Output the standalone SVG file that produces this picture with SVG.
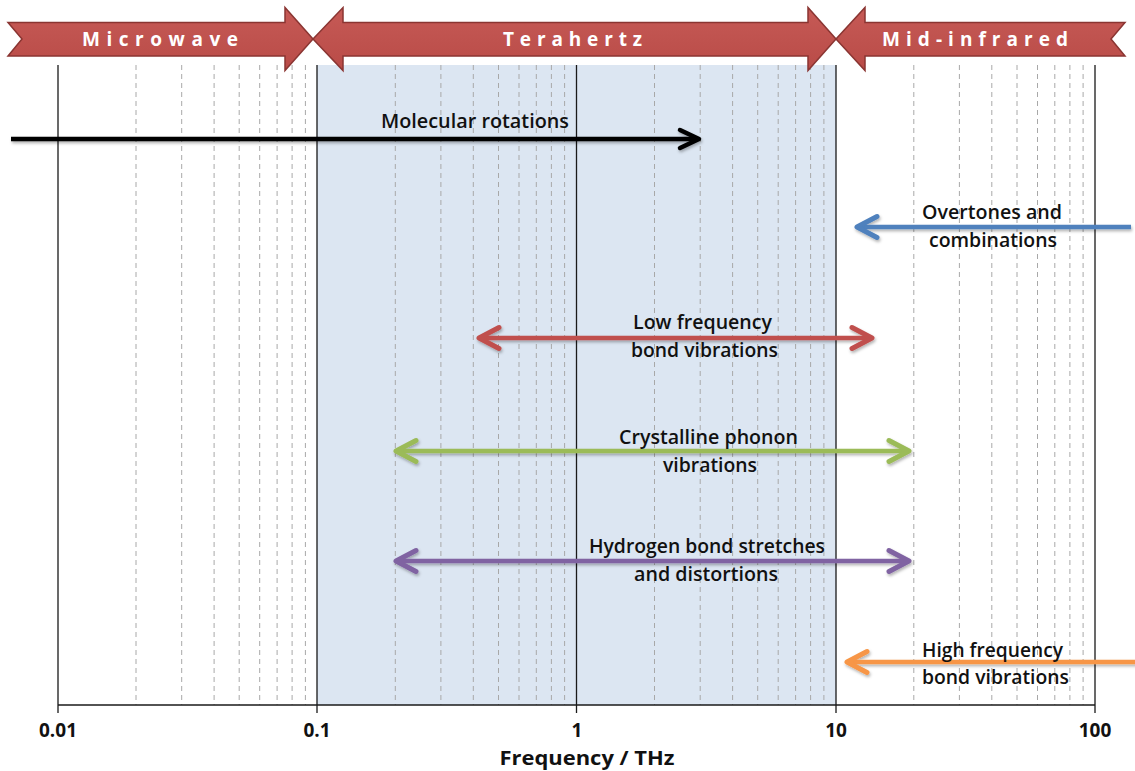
<svg xmlns="http://www.w3.org/2000/svg" width="1135" height="771" viewBox="0 0 1135 771">
  <style>
    .dash { stroke: #a8a8a8; stroke-width: 1; stroke-dasharray: 5 4; fill: none; }
    .decade { stroke: #1a1a1a; stroke-width: 1.3; fill: none; }
    .band { fill: url(#bandGrad); stroke: #8a3532; stroke-width: 1.5; stroke-linejoin: miter; }
    .bandText { font-family: "Open Sans", "Liberation Sans", sans-serif; font-weight: 700; font-size: 19px; fill: #ffffff; }
    .lbl { font-family: "Open Sans", "Liberation Sans", sans-serif; font-weight: 600; font-size: 19.5px; fill: #111111; text-anchor: middle; }
    .tick { font-family: "Open Sans", "Liberation Sans", sans-serif; font-weight: 700; font-size: 19px; fill: #111111; text-anchor: middle; }
    .conn { fill: none; stroke-width: 4.5; }
  </style>
  <defs>
    <linearGradient id="bandGrad" x1="0" y1="0" x2="0" y2="1">
      <stop offset="0" stop-color="#c65a56"/>
      <stop offset="1" stop-color="#b94b47"/>
    </linearGradient>
    <filter id="shadow" x="-5%" y="-50%" width="110%" height="200%">
      <feDropShadow dx="1" dy="2" stdDeviation="1.5" flood-color="#000000" flood-opacity="0.3"/>
    </filter>
    <marker id="ah-black" viewBox="0 0 26 26" markerWidth="26" markerHeight="26" refX="21" refY="13" orient="auto-start-reverse" markerUnits="userSpaceOnUse" overflow="visible">
      <path d="M4,4 L23,13 L4,22" fill="none" stroke="#000000" stroke-width="4.5" stroke-linecap="round" stroke-linejoin="round"/>
    </marker>
    <marker id="ah-blue" viewBox="0 0 26 26" markerWidth="26" markerHeight="26" refX="21" refY="13" orient="auto-start-reverse" markerUnits="userSpaceOnUse" overflow="visible">
      <path d="M3,2.5 L23,13 L3,23.5" fill="none" stroke="#4f81bd" stroke-width="5" stroke-linecap="round" stroke-linejoin="round"/>
    </marker>
    <marker id="ah-red" viewBox="0 0 26 26" markerWidth="26" markerHeight="26" refX="21" refY="13" orient="auto-start-reverse" markerUnits="userSpaceOnUse" overflow="visible">
      <path d="M3,2.5 L23,13 L3,23.5" fill="none" stroke="#c0504d" stroke-width="5" stroke-linecap="round" stroke-linejoin="round"/>
    </marker>
    <marker id="ah-green" viewBox="0 0 26 26" markerWidth="26" markerHeight="26" refX="21" refY="13" orient="auto-start-reverse" markerUnits="userSpaceOnUse" overflow="visible">
      <path d="M3,2.5 L23,13 L3,23.5" fill="none" stroke="#9bbb59" stroke-width="5" stroke-linecap="round" stroke-linejoin="round"/>
    </marker>
    <marker id="ah-purple" viewBox="0 0 26 26" markerWidth="26" markerHeight="26" refX="21" refY="13" orient="auto-start-reverse" markerUnits="userSpaceOnUse" overflow="visible">
      <path d="M3,2.5 L23,13 L3,23.5" fill="none" stroke="#8064a2" stroke-width="5" stroke-linecap="round" stroke-linejoin="round"/>
    </marker>
    <marker id="ah-orange" viewBox="0 0 26 26" markerWidth="26" markerHeight="26" refX="21" refY="13" orient="auto-start-reverse" markerUnits="userSpaceOnUse" overflow="visible">
      <path d="M3,2.5 L23,13 L3,23.5" fill="none" stroke="#f79646" stroke-width="5" stroke-linecap="round" stroke-linejoin="round"/>
    </marker>
  </defs>

  <rect x="0" y="0" width="1135" height="771" fill="#ffffff"/>

  <!-- Plot area -->
  <g id="plot">
    <rect id="thz-region" x="317" y="65" width="519" height="640" fill="#dce6f2"/>
    <path class="dash" d="M136,65V705 M181.7,65V705 M214.1,65V705 M239.2,65V705 M259.7,65V705 M277.1,65V705 M292.1,65V705 M305.4,65V705
      M395.3,65V705 M440.9,65V705 M473.3,65V705 M498.5,65V705 M519,65V705 M536.3,65V705 M551.4,65V705 M564.6,65V705
      M654.5,65V705 M700.2,65V705 M732.6,65V705 M757.7,65V705 M778.2,65V705 M795.6,65V705 M810.6,65V705 M823.9,65V705
      M913.8,65V705 M959.4,65V705 M991.8,65V705 M1017,65V705 M1037.5,65V705 M1054.8,65V705 M1069.9,65V705 M1083.1,65V705"/>
    <path class="decade" d="M58,65V713 M317,65V713 M576.5,65V713 M836,65V713 M1095,65V713"/>
    <path class="decade" d="M58,705H1095" stroke-width="1.6"/>
  </g>

  <!-- Band banner -->
  <g id="band-microwave">
    <path class="band" d="M8,22.5 L285,22.5 L285,7.5 L313,39 L285,70.5 L285,56 L8,56 L22,39 Z"/>
    <text class="bandText" x="82" y="46" textLength="156" lengthAdjust="spacing">Microwave</text>
  </g>
  <g id="band-terahertz">
    <path class="band" d="M313,39 L343,7.5 L343,22.5 L808,22.5 L808,7.5 L836,39 L808,70.5 L808,56 L343,56 L343,70.5 Z"/>
    <text class="bandText" x="503" y="46" textLength="139" lengthAdjust="spacing">Terahertz</text>
  </g>
  <g id="band-midinfrared">
    <path class="band" d="M836,39 L865,7.5 L865,22.5 L1125,22.5 L1111,39 L1125,56 L865,56 L865,70.5 Z"/>
    <text class="bandText" x="882" y="46" textLength="186" lengthAdjust="spacing">Mid-infrared</text>
  </g>

  <!-- Connectors -->
  <g id="connectors" filter="url(#shadow)">
    <path id="arrow-molecular" class="conn" stroke="#000000" stroke-width="4" d="M11,139 L697,139" marker-end="url(#ah-black)"/>
    <path id="arrow-overtones" class="conn" stroke="#4f81bd" d="M1131,227 L859,227" marker-end="url(#ah-blue)"/>
    <path id="arrow-lowfreq" class="conn" stroke="#c0504d" d="M481,338 L870,338" marker-start="url(#ah-red)" marker-end="url(#ah-red)"/>
    <path id="arrow-phonon" class="conn" stroke="#9bbb59" d="M398,451 L907,451" marker-start="url(#ah-green)" marker-end="url(#ah-green)"/>
    <path id="arrow-hbond" class="conn" stroke="#8064a2" d="M398,561 L907,561" marker-start="url(#ah-purple)" marker-end="url(#ah-purple)"/>
    <path id="arrow-highfreq" class="conn" stroke="#f79646" d="M1137,662 L849,662" marker-end="url(#ah-orange)"/>
  </g>

  <!-- Labels -->
  <g id="label-molecular">
    <text class="lbl" x="475" y="128" textLength="188" lengthAdjust="spacingAndGlyphs">Molecular rotations</text>
  </g>
  <g id="label-overtones">
    <text class="lbl" x="992" y="219" textLength="140" lengthAdjust="spacingAndGlyphs">Overtones and</text>
    <text class="lbl" x="993" y="247" textLength="128" lengthAdjust="spacingAndGlyphs">combinations</text>
  </g>
  <g id="label-lowfreq">
    <text class="lbl" x="702.5" y="329" textLength="139" lengthAdjust="spacingAndGlyphs">Low frequency</text>
    <text class="lbl" x="704.5" y="357" textLength="147" lengthAdjust="spacingAndGlyphs">bond vibrations</text>
  </g>
  <g id="label-phonon">
    <text class="lbl" x="708.5" y="444" textLength="179" lengthAdjust="spacingAndGlyphs">Crystalline phonon</text>
    <text class="lbl" x="710" y="472" textLength="94" lengthAdjust="spacingAndGlyphs">vibrations</text>
  </g>
  <g id="label-hbond">
    <text class="lbl" x="707" y="553" textLength="236" lengthAdjust="spacingAndGlyphs">Hydrogen bond stretches</text>
    <text class="lbl" x="706" y="581" textLength="144" lengthAdjust="spacingAndGlyphs">and distortions</text>
  </g>
  <g id="label-highfreq">
    <text class="lbl" x="992.5" y="657" textLength="141" lengthAdjust="spacingAndGlyphs">High frequency</text>
    <text class="lbl" x="995.5" y="684" textLength="147" lengthAdjust="spacingAndGlyphs">bond vibrations</text>
  </g>

  <!-- Axis -->
  <g id="axis-labels">
    <text class="tick" x="58" y="737">0.01</text>
    <text class="tick" x="317" y="737">0.1</text>
    <text class="tick" x="577" y="737">1</text>
    <text class="tick" x="836" y="737">10</text>
    <text class="tick" x="1095" y="737">100</text>
    <text class="tick" x="587" y="765" font-size="20.5" font-weight="600" textLength="175" lengthAdjust="spacingAndGlyphs">Frequency / THz</text>
  </g>
</svg>
